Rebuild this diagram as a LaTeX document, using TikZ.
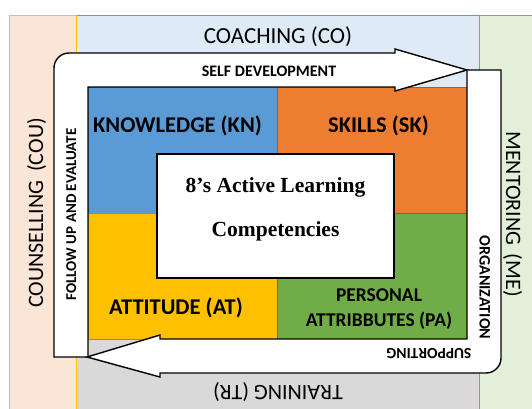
\documentclass[tikz,border=0pt]{standalone}
\usepackage{fontspec}
\setmainfont{Carlito}
\newfontfamily\tnr{Liberation Serif}
\definecolor{bgpink}{HTML}{FBE5D6}
\definecolor{bgblue}{HTML}{DEEBF7}
\definecolor{bggreen}{HTML}{E2F0D9}
\definecolor{bggrey}{HTML}{D9D9D9}
\definecolor{kn}{HTML}{5B9BD5}
\definecolor{knb}{HTML}{41719C}
\definecolor{sk}{HTML}{ED7D31}
\definecolor{skb}{HTML}{AE5A21}
\definecolor{at}{HTML}{FFC000}
\definecolor{atb}{HTML}{BC8C00}
\definecolor{pa}{HTML}{70AD47}
\definecolor{pab}{HTML}{507E32}
\begin{document}
\begin{tikzpicture}[x=1pt,y=-1pt,
  bgarea/.style={line width=0.9pt},
  quad/.style={line width=0.9pt},
  flow/.style={draw=black,fill=white,line width=1.4pt,line join=miter},
  corebox/.style={draw=black,fill=white,line width=1.6pt,minimum width=237pt,minimum height=124pt,inner sep=0pt},
  big/.style={font=\fontsize{22}{26}\selectfont,inner sep=0pt,anchor=base},
  quadlabel/.style={font=\bfseries\fontsize{22.5}{26}\selectfont,inner sep=0pt,anchor=base},
  palabel/.style={font=\bfseries\fontsize{19.5}{23}\selectfont,inner sep=0pt,anchor=base},
  small/.style={font=\bfseries\fontsize{16}{18}\selectfont,inner sep=0pt,anchor=base},
  coretext/.style={font=\tnr\bfseries\fontsize{21.5}{25}\selectfont,inner sep=0pt,anchor=base}]
\useasboundingbox (0,0) rectangle (532,408);
% background areas
\path[bgarea,fill=bgblue,draw=kn] (76,15) rectangle (479,230);
\path[fill=bggrey] (76,230) rectangle (479,412);
\path[fill=bgpink] (9,15) rectangle (76,412);
\path[bgarea,draw=at] (9,412) -- (9,15) -- (76,15) -- (76,412);
\path[fill=bggreen] (479,15) rectangle (540,412);
\path[bgarea,draw=sk] (479,412) -- (479,15) -- (540,15);
% four quadrants
\path[quad,fill=kn,draw=knb] (88,87) rectangle (277,213);
\path[quad,fill=sk,draw=skb] (277,87) rectangle (467,213);
\path[quad,fill=at,draw=atb] (88,213) rectangle (277,339);
\path[quad,fill=pa,draw=pab] (277,213) rectangle (467,339);
% circular flow frame
\path[flow] (54,357) -- (54,68) .. controls (54,59.7) and (60.7,53) .. (69,53) -- (395,53) -- (395,49) -- (467,70) -- (395,91) -- (395,87) -- (88,87) -- (88,357) -- cycle;
\path[flow] (467,70) -- (501,70) -- (501,358) .. controls (501,366.3) and (494.3,373) .. (486,373) -- (160,373) -- (160,377) -- (87,357) -- (160,335) -- (160,339) -- (467,339) -- cycle;
% centre box
\node[corebox] (core) at (275.5,216) {};
\node[coretext] (core1) at (275.5,192) {8’s Active Learning};
\node[coretext] (core2) at (275.5,236) {Competencies};
% labels
\node[big,font=\fontsize{23}{26}\selectfont] (co) at (278,43) {COACHING (CO)};
\node[big,rotate=180] (tr) at (278,385) {TRAINING (TR)};
\node[big,rotate=90] (cou) at (43,213) {COUNSELLING\ \,(COU)};
\node[big,rotate=-90] (me) at (506,214) {MENTORING\ \,(ME)};
\node[small] (sd) at (269,76.5) {SELF DEVELOPMENT};
\node[small,font=\bfseries\fontsize{15.5}{18}\selectfont,rotate=180] (sup) at (429,348) {SUPPORTING};
\node[small,rotate=-90] (org) at (479.5,287.5) {ORGANIZATION};
\node[small,font=\bfseries\fontsize{15}{18}\selectfont,rotate=90] (fu) at (76,214.5) {FOLLOW UP AND EVALUATE};
\node[quadlabel] (kntext) at (177.5,132.5) {KNOWLEDGE (KN)};
\node[quadlabel] (sktext) at (378.5,132) {SKILLS (SK)};
\node[quadlabel] (attext) at (176,314) {ATTITUDE (AT)};
\node[palabel] (patext1) at (379,301) {PERSONAL};
\node[palabel] (patext2) at (379,326) {ATTRIBBUTES (PA)};
\end{tikzpicture}
\end{document}
